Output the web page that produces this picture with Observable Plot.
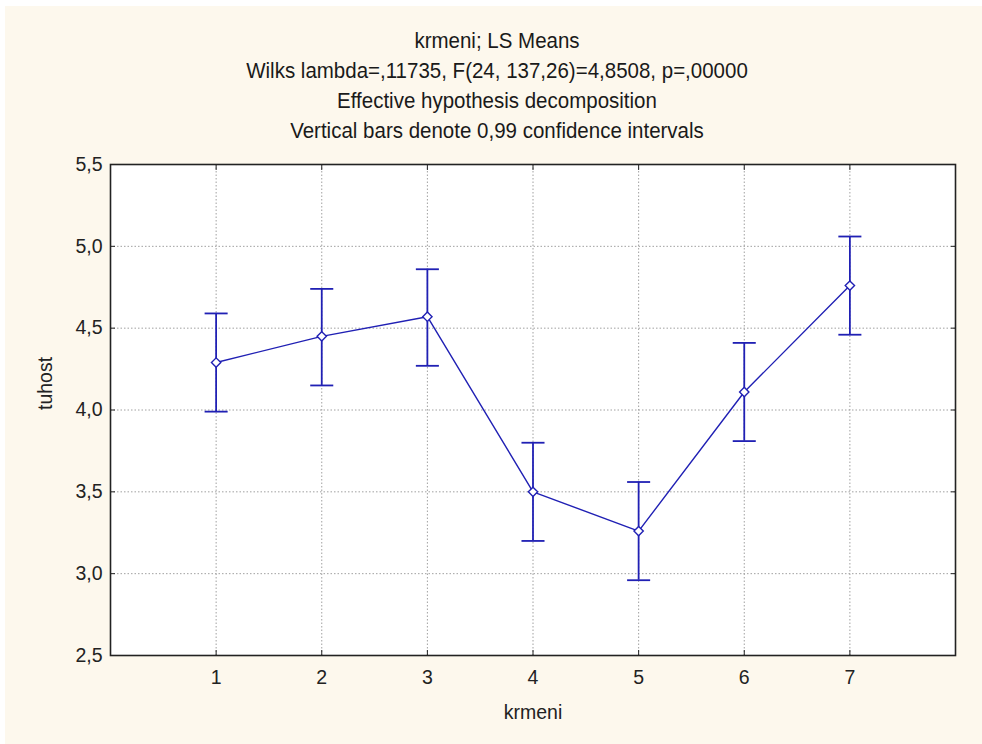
<!DOCTYPE html>
<html>
<head>
<meta charset="utf-8">
<script src="https://cdn.jsdelivr.net/npm/d3@7"></script>
<script src="https://cdn.jsdelivr.net/npm/@observablehq/plot@0.6"></script>
<style>
  html, body { margin: 0; padding: 0; background: #ffffff; }
  #page { position: absolute; left: 5px; top: 6px; width: 977px; height: 738px; background: #fdf8ed; }
  #titles { position: absolute; left: 0; top: 26px; width: 982px; text-align: center;
            font-family: "Liberation Sans", Arial, sans-serif; font-size: 20.5px; color: #1a1a1a; }
  #titles div { height: 30px; line-height: 30px; position: relative; left: 6px; transform: scaleY(1.05); }
  #chart { position: absolute; left: 0; top: 150px; }
</style>
</head>
<body>
<div id="page"></div>
<div id="titles">
  <div>krmeni; LS Means</div>
  <div>Wilks lambda=,11735, F(24, 137,26)=4,8508, p=,00000</div>
  <div>Effective hypothesis decomposition</div>
  <div>Vertical bars denote 0,99 confidence intervals</div>
</div>
<div id="chart"></div>
<script>
const categories = [1, 2, 3, 4, 5, 6, 7];
const means = [4.29, 4.45, 4.57, 3.50, 3.26, 4.11, 4.76];
const lower = [3.99, 4.15, 4.27, 3.20, 2.96, 3.81, 4.46];
const upper = [4.59, 4.74, 4.86, 3.80, 3.56, 4.41, 5.06];
const yTicks = [2.5, 3.0, 3.5, 4.0, 4.5, 5.0, 5.5];
const xTicks = [1, 2, 3, 4, 5, 6, 7];
const xLabel = "krmeni";
const yLabel = "tuhost";

const data = categories.map((c, i) => ({k: c, m: means[i], lo: lower[i], hi: upper[i]}));
const blue = "#2020b4";
const comma = d => d3.format(".1f")(d).replace(".", ",");
const capSymbol = {
  draw(context, size) {
    const w = Math.sqrt(size);
    context.moveTo(-w, 0);
    context.lineTo(w, 0);
  }
};

const chart = Plot.plot({
  width: 982,
  height: 594,
  marginLeft: 110,
  marginRight: 27,
  marginTop: 14,
  marginBottom: 89,
  style: {fontFamily: "'Liberation Sans', Arial, sans-serif", fontSize: "19.5px", color: "#222", background: "transparent"},
  x: {domain: [0, 8]},
  y: {domain: [2.5, 5.5]},
  marks: [
    Plot.frame({fill: "white", stroke: null}),
    Plot.gridX(xTicks, {stroke: "#a0a0a0", strokeOpacity: 1, strokeDasharray: "1.5,2"}),
    Plot.gridY(yTicks.slice(1, -1), {stroke: "#a0a0a0", strokeOpacity: 1, strokeDasharray: "1.5,2"}),
    Plot.axisY(yTicks, {anchor: "left", tickSize: 0, tickPadding: 8, tickFormat: comma, label: null}),
    Plot.axisX(xTicks, {anchor: "bottom", tickSize: 0, tickPadding: 15, tickFormat: d => String(d), label: null}),
    Plot.axisY(yTicks, {anchor: "left", tickSize: 5, dx: 5, tickFormat: () => "", label: null}),
    Plot.axisY(yTicks, {anchor: "right", tickSize: 5, dx: -5, tickFormat: () => "", label: null}),
    Plot.axisX(xTicks, {anchor: "bottom", tickSize: 5, dy: -5, tickFormat: () => "", label: null}),
    Plot.axisX(xTicks, {anchor: "top", tickSize: 5, dy: 5, tickFormat: () => "", label: null}),
    Plot.frame({stroke: "#222", strokeWidth: 1.6}),
    Plot.text([xLabel], {frameAnchor: "bottom", dy: 63, fontSize: 19.5, fill: "#222"}),
    Plot.text([yLabel], {frameAnchor: "left", dx: -65, rotate: -90, fontSize: 19.5, fill: "#222"}),
    Plot.ruleX(data, {x: "k", y1: "lo", y2: "hi", stroke: blue, strokeWidth: 1.8}),
    Plot.dot(data, {x: "k", y: "lo", symbol: capSymbol, r: 6.5, stroke: blue, strokeWidth: 1.8, fill: "none"}),
    Plot.dot(data, {x: "k", y: "hi", symbol: capSymbol, r: 6.5, stroke: blue, strokeWidth: 1.8, fill: "none"}),
    Plot.line(data, {x: "k", y: "m", stroke: blue, strokeWidth: 1.4}),
    Plot.dot(data, {x: "k", y: "m", symbol: "diamond2", r: 4.2, stroke: blue, strokeWidth: 1.4, fill: "white"})
  ]
});
document.getElementById("chart").appendChild(chart);
</script>
</body>
</html>
